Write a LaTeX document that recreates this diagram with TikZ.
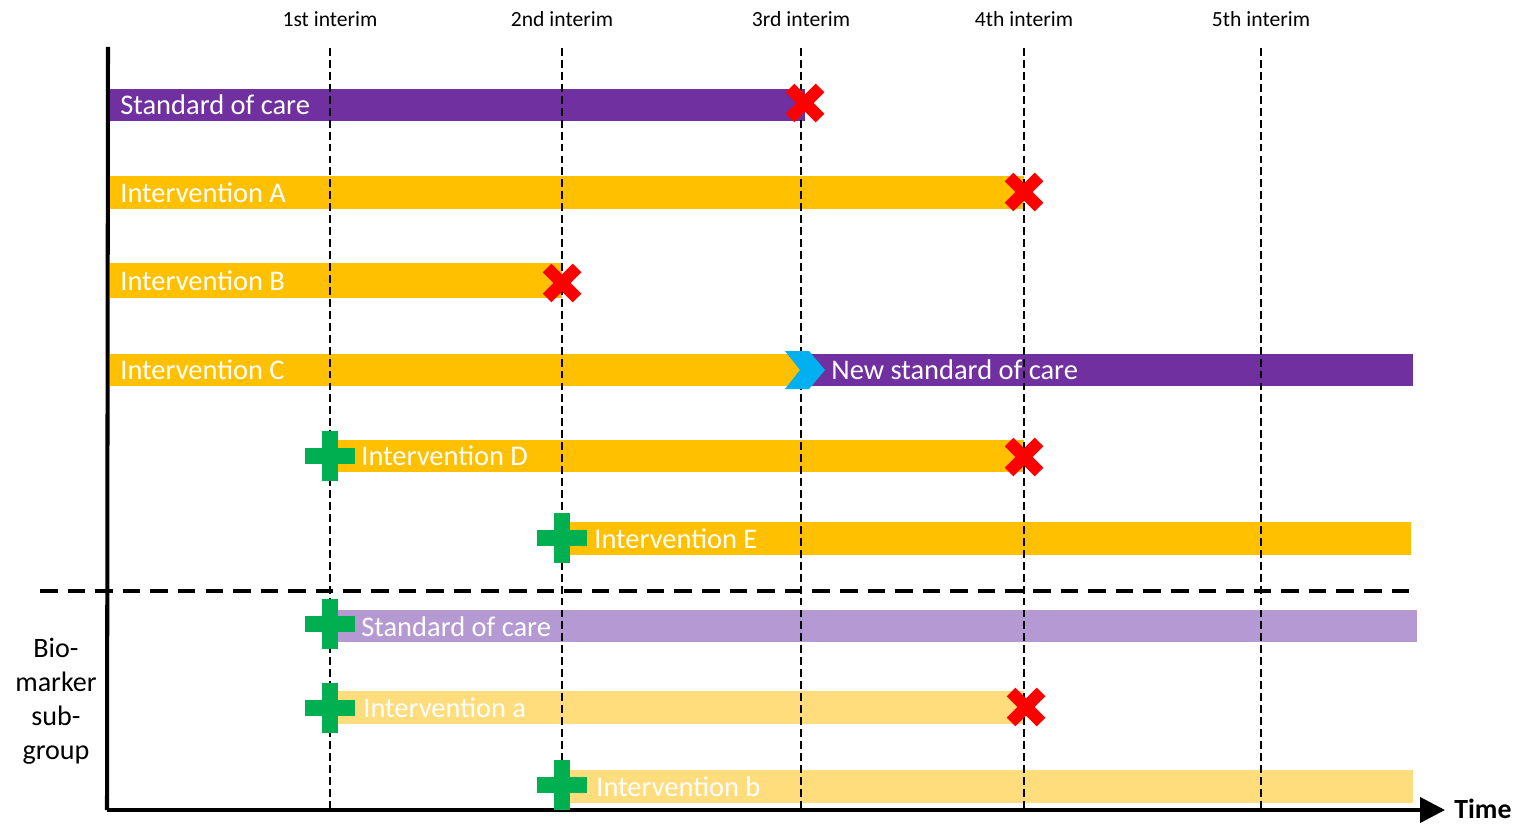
\documentclass[tikz,border=0pt]{standalone}
\usepackage{fontspec}
\setmainfont{Carlito}
\usetikzlibrary{arrows.meta}
\definecolor{socpurple}{HTML}{7030A0}
\definecolor{armgold}{HTML}{FFC000}
\definecolor{lightpurple}{HTML}{B499D2}
\definecolor{lightgold}{HTML}{FFDC7C}
\definecolor{stopred}{HTML}{FF0000}
\definecolor{addgreen}{HTML}{00B050}
\definecolor{switchblue}{HTML}{00B0F0}
\begin{document}
\begin{tikzpicture}[x=0.02cm,y=-0.02cm,
  barlabel/.style={anchor=west,inner sep=0pt,text=white,font=\fontsize{16.2}{19}\selectfont},
  interim/.style={anchor=center,inner sep=0pt,font=\fontsize{12.3}{14}\selectfont},
  guide/.style={black,line width=1.1pt,dash pattern=on 4.5pt off 2.3pt},
  split/.style={black,line width=2.8pt,dash pattern=on 10pt off 5.7pt},
  axisline/.style={black,line width=2.3pt},
  stopx/.style={stopred,line width=7pt},
  addplus/.style={fill=addgreen,draw=none}]
\useasboundingbox (0,0) rectangle (1517,824);

% interim analysis guides
\foreach \n/\x/\lab in {i1/330/1st interim,i2/562/2nd interim,i3/801/3rd interim,i4/1024/4th interim,i5/1261/5th interim}{
  \node[interim] (\n) at (\x,19) {\lab};
  \coordinate (\n top) at (\x,48);
  \coordinate (\n bot) at (\x,810);
}

% bars
\fill[socpurple]   (110,89)  rectangle (805,121);
\fill[armgold]     (110,176) rectangle (1024,209);
\fill[armgold]     (110,263) rectangle (562,298);
\fill[armgold]     (110,354) rectangle (801,386);
\fill[socpurple]   (801,354) rectangle (1413,386);
\fill[armgold]     (330,440) rectangle (1024,472);
\fill[armgold]     (562,522) rectangle (1411,555);
\fill[lightpurple] (330,610) rectangle (1417,642);
\fill[lightgold]   (330,691) rectangle (1024,724);
\fill[lightgold]   (562,770) rectangle (1413,803);

% vertical guides
\foreach \n in {i1,i2,i3,i4,i5}{
  \draw[guide] (\n top) -- (\n bot);
}

% biomarker split
\coordinate (splitL) at (40,591);
\coordinate (splitR) at (1412,591);
\draw[split] (splitL) -- (splitR);

% axes
\coordinate (origin) at (107,810);
\coordinate (ytop) at (108,47);
\coordinate (xend) at (1445,810);
\draw[axisline] (ytop) -- (origin);
\draw[axisline,-{Triangle[length=0.5cm,width=0.5cm]}] (origin) -- (xend);
\node[anchor=west,inner sep=0pt,font=\fontsize{15.8}{19}\selectfont\bfseries] (time) at (1454,809) {Time};

% arm labels
\node[barlabel] (soc) at (120,105) {Standard of care};
\node[barlabel] (armA) at (120,193) {Intervention A};
\node[barlabel] (armB) at (120,281) {Intervention B};
\node[barlabel] (armC) at (120,370) {Intervention C};
\node[barlabel] (nsoc) at (831,370) {New standard of care};
\node[barlabel] (armD) at (361,456) {Intervention D};
\node[barlabel] (armE) at (594,539) {Intervention E};
\node[barlabel] (bsoc) at (361,627) {Standard of care};
\node[barlabel] (arma) at (363,708) {Intervention a};
\node[barlabel] (armb) at (596,787) {Intervention b};

% subgroup label
\node[align=center,inner sep=0pt,font=\fontsize{16}{19.4}\selectfont] (bio) at (56,701) {Bio-\\marker\\sub-\\group};

% dropped arms
\foreach \x/\y in {805/103,1024/192,562/283,1024/457,1026/707}{
  \draw[stopx] (\x-15,\y-15) -- (\x+15,\y+15);
  \draw[stopx] (\x-15,\y+15) -- (\x+15,\y-15);
}

% added arms
\foreach \x/\y in {330/456,562/538,330/624,330/708,562/785}{
  \fill[addplus] (\x-25,\y-8) rectangle (\x+25,\y+8);
  \fill[addplus] (\x-8,\y-25) rectangle (\x+8,\y+25);
}

% switch of standard of care
\fill[switchblue] (785,351) -- (809,351) -- (825,370) -- (809,389) -- (785,389) -- (800,370) -- cycle;
\end{tikzpicture}
\end{document}
